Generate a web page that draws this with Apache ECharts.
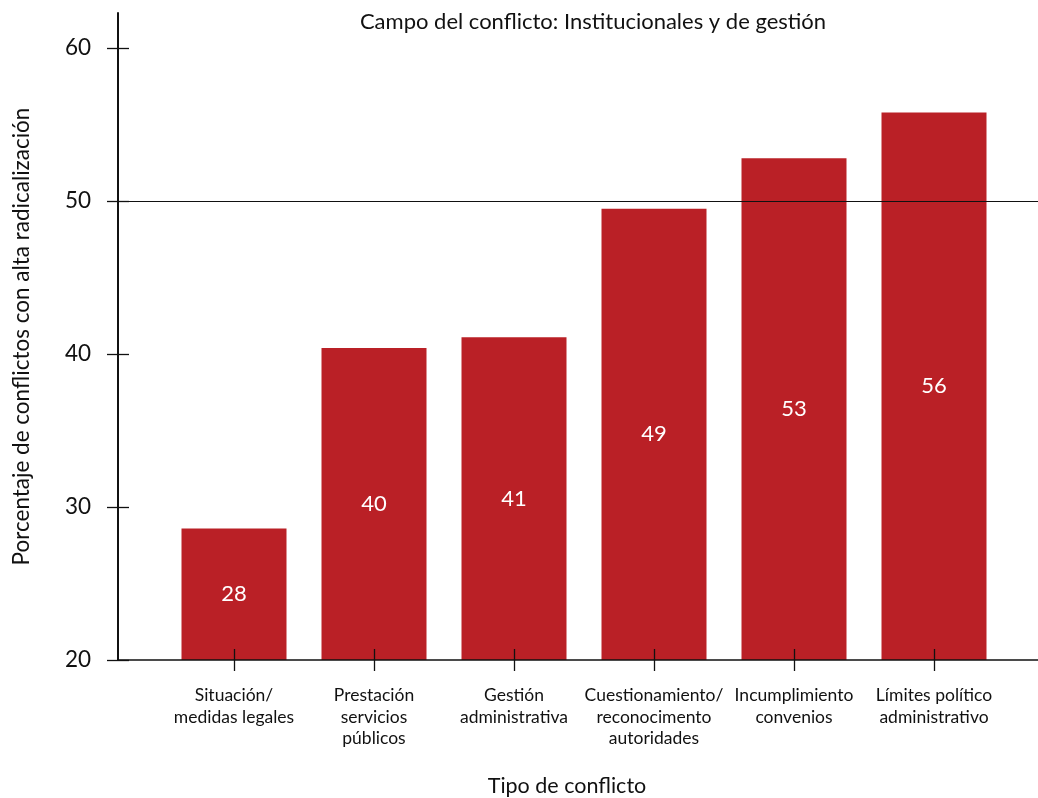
<!DOCTYPE html>
<html>
<head>
<meta charset="utf-8">
<script src="https://cdn.jsdelivr.net/npm/echarts@6/dist/echarts.min.js"></script>
<style>
  html, body { margin: 0; padding: 0; background: #fff; }
  #chart { width: 1038px; height: 798px; }
</style>
</head>
<body>
<div id="chart"></div>
<script>
// datos
var categorias = [
  'Situación/\nmedidas legales',
  'Prestación\nservicios\npúblicos',
  'Gestión\nadministrativa',
  'Cuestionamiento/\nreconocimento\nautoridades',
  'Incumplimiento\nconvenios',
  'Límites político\nadministrativo'
];
var porcentajes = [28.6, 40.4, 41.1, 49.5, 52.8, 55.8];
var etiquetas = ['28', '40', '41', '49', '53', '56'];
var ticksY = [20, 30, 40, 50, 60];
var lineaRef = 50;

var fuente = 'Lato';
var rojo = '#BA2026';
var negro = '#111';

var chart = echarts.init(document.getElementById('chart'));

var option = {
  animation: false,
  backgroundColor: '#fff',
  textStyle: { fontFamily: fuente },
  graphic: [
    {
      type: 'text', x: 593, y: 22,
      style: { text: 'Campo del conflicto: Institucionales y de gestión', textAlign: 'center', textVerticalAlign: 'middle', font: '22px ' + fuente, fill: negro }
    },
    {
      type: 'text', x: 567, y: 786,
      style: { text: 'Tipo de conflicto', textAlign: 'center', textVerticalAlign: 'middle', font: '21.5px ' + fuente, fill: negro }
    }
  ],
  grid: [
    { left: 118, right: 0, top: 13, bottom: 138 },   // ejes completos
    { left: 164, right: 34, top: 13, bottom: 138 }   // barras
  ],
  xAxis: [
    {
      gridIndex: 0, type: 'value', min: 0, max: 1, position: 'bottom', z: 5,
      axisLine: { show: true, lineStyle: { color: negro, width: 1.5 } },
      axisTick: { show: false }, axisLabel: { show: false }, splitLine: { show: false }
    },
    {
      gridIndex: 1, type: 'category', data: categorias, position: 'bottom', offset: -11, z: 5,
      axisLine: { show: true, lineStyle: { color: 'rgba(0,0,0,0)' } },
      axisTick: { show: true, alignWithLabel: true, interval: 0, length: 22, lineStyle: { color: negro, width: 1.3 } },
      axisLabel: { interval: 0, margin: 36, fontSize: 17.5, lineHeight: 21.5, color: negro, fontFamily: fuente },
      splitLine: { show: false }
    }
  ],
  yAxis: [
    {
      gridIndex: 0, type: 'value', position: 'left', min: 20, max: 62.3, interval: 10, z: 5,
      name: 'Porcentaje de conflictos con alta radicalización',
      nameLocation: 'middle', nameGap: 85,
      nameTextStyle: { fontSize: 22.5, color: negro, fontFamily: fuente },
      axisLine: { show: true, lineStyle: { color: negro, width: 2 } },
      axisTick: { show: false },
      axisLabel: { margin: 27, fontSize: 22.5, color: negro, fontFamily: fuente, customValues: ticksY },
      splitLine: { show: false }
    },
    {
      gridIndex: 0, type: 'value', position: 'left', min: 20, max: 62.3, interval: 10, offset: -11, z: 5,
      axisLine: { show: false },
      axisTick: { show: true, length: 22, customValues: ticksY, lineStyle: { color: negro, width: 1.3 } },
      axisLabel: { show: false },
      splitLine: { show: false }
    },
    {
      gridIndex: 1, type: 'value', min: 20, max: 62.3, show: false
    }
  ],
  series: [
    {
      type: 'bar', xAxisIndex: 1, yAxisIndex: 2,
      data: porcentajes, barWidth: '75%',
      itemStyle: { color: rojo },
      label: {
        show: true, position: 'inside', color: '#fff', fontSize: 22, fontFamily: fuente,
        formatter: function (p) { return etiquetas[p.dataIndex]; }
      },
      z: 2
    },
    {
      type: 'line', xAxisIndex: 0, yAxisIndex: 0, data: [],
      z: 10,
      markLine: {
        silent: true, symbol: 'none', animation: false,
        label: { show: false },
        lineStyle: { color: negro, type: 'solid', width: 1.2 },
        data: [{ yAxis: lineaRef }]
      }
    }
  ]
};

chart.setOption(option);
</script>
</body>
</html>
